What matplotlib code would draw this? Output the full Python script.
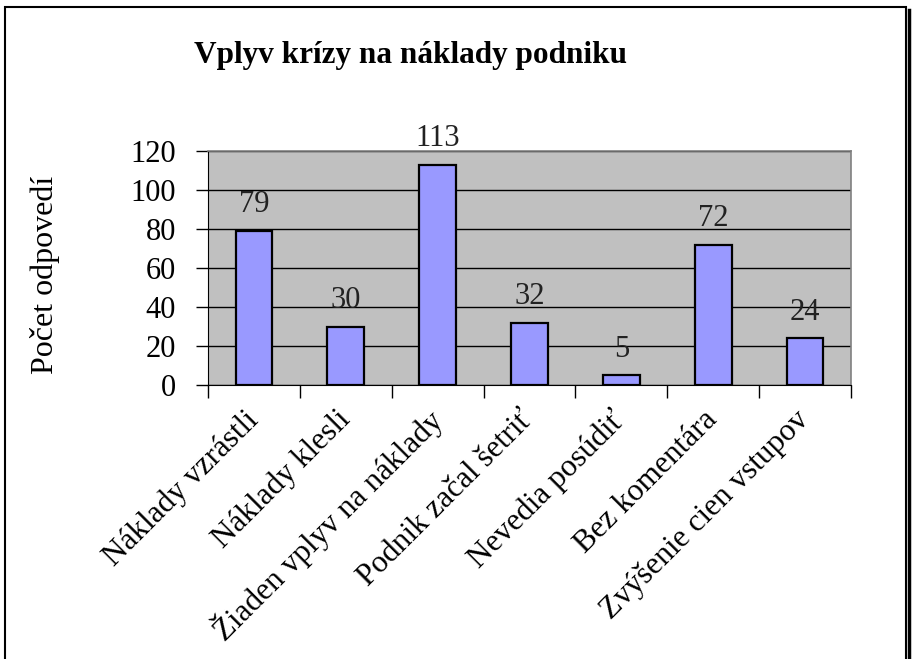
import matplotlib.pyplot as plt
from matplotlib.patches import Rectangle
from matplotlib.lines import Line2D
import numpy as np

categories = ["Náklady vzrástli", "Náklady klesli", "Žiaden vplyv na náklady",
              "Podnik začal šetriť", "Nevedia posúdiť", "Bez komentára",
              "Zvýšenie cien vstupov"]
values = [79, 30, 113, 32, 5, 72, 24]
yticks = [0, 20, 40, 60, 80, 100, 120]

plt.rcParams['font.family'] = ['Liberation Serif', 'DejaVu Serif']

fig = plt.figure(figsize=(9.18, 6.59), dpi=100)
W, H = 918, 659
ax = fig.add_axes([208 / W, 1 - 385 / H, (851 - 208) / W, (385 - 151) / H])

x = np.arange(len(categories))
ax.bar(x, values, width=0.4, color='#9999ff', edgecolor='black', linewidth=1.6, zorder=3)
for xi, v in zip(x, values):
    ax.text(xi, v + 6, str(v), ha='center', va='bottom', fontsize=22, color='#222222')

ax.set_xlim(-0.5, len(categories) - 0.5)
ax.set_ylim(0, 120)
ax.set_facecolor('#c0c0c0')
ax.set_yticks(yticks)
ax.set_yticklabels([str(t) for t in yticks], fontsize=22)
ax.yaxis.grid(True, color='black', linewidth=1.0, zorder=1)
ax.set_axisbelow(True)
ax.tick_params(axis='y', direction='out', length=9, width=1.0, pad=14)

# category boundary ticks on x axis
ax.set_xticks(np.arange(-0.5, len(categories), 1.0))
ax.set_xticklabels([])
ax.tick_params(axis='x', direction='out', length=9, width=1.0)
ax.set_xticks(x, minor=True)
ax.set_xticklabels(categories, minor=True, rotation=45, ha='right', va='center',
                   rotation_mode='anchor', fontsize=22.5)
ax.tick_params(axis='x', which='minor', length=0, pad=22)

for side in ['top', 'right']:
    ax.spines[side].set_color('#808080')
    ax.spines[side].set_linewidth(1.2)
ax.spines['left'].set_color('black')
ax.spines['bottom'].set_color('black')

ax.set_ylabel('Počet odpovedí', fontsize=23)
ax.yaxis.set_label_coords(-148 / (851 - 208), 0.47)

fig.text(411 / W, 1 - 56 / H, 'Vplyv krízy na náklady podniku', ha='center', va='center',
         fontsize=22.5, fontweight='bold')

# outer chart frame
fig.patches.append(Rectangle((5 / W, -0.1), (906 - 5) / W, 1 - 7 / H + 0.1,
                             transform=fig.transFigure, fill=False,
                             edgecolor='black', linewidth=1.5))
fig.lines.append(Line2D([909 / W, 909 / W], [0, 1 - 10 / H], transform=fig.transFigure,
                        color='black', linewidth=2.5))

plt.savefig('out.png', dpi=100)
